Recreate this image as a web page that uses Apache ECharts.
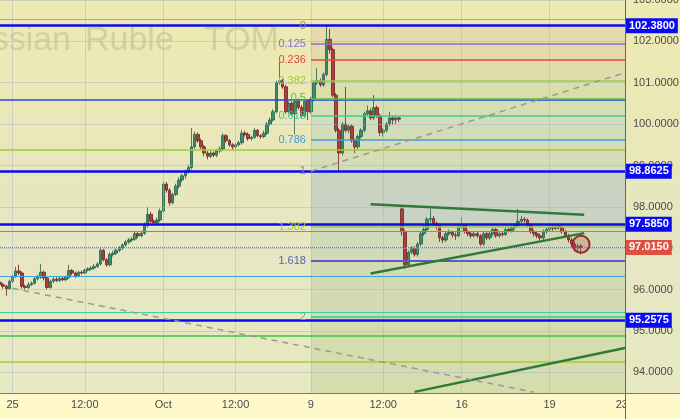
<!DOCTYPE html>
<html><head><meta charset="utf-8">
<script src="https://cdn.jsdelivr.net/npm/echarts@6/dist/echarts.min.js"></script>
<style>html,body{margin:0;padding:0;background:#FFF8CB;}#c{width:680px;height:419px;}</style>
</head><body><div id="c"></div>
<script>
// ---------- data ----------
const categoryCount = 200;
const categories = Array.from({length: categoryCount}, (_, i) => String(i));
const xTickIdx = [4, 27, 52, 75, 99, 122, 147, 175, 198];
const xTickLabels = ['25', '12:00', 'Oct', '12:00', '9', '12:00', '16', '19', '23'];
const yTicks = [94, 95, 96, 97, 98, 99, 100, 101, 102, 103];
const yMin = 93.5, yMax = 103;

// [open, close, low, high]
const ohlc = [
[96.18,96.12,96.05,96.22],[96.12,96.08,96.02,96.16],[96.08,96.02,95.85,96.12],[96.02,96.20,96.00,96.24],
[96.20,96.32,96.16,96.36],[96.32,96.45,96.28,96.55],[96.45,96.40,96.35,96.60],[96.40,96.08,96.02,96.44],
[96.08,96.05,96.00,96.12],[96.05,96.12,96.02,96.18],[96.12,96.15,96.08,96.20],[96.15,96.26,96.12,96.30],
[96.26,96.30,96.22,96.36],[96.30,96.42,96.26,96.62],[96.42,96.28,96.22,96.46],[96.28,96.05,96.00,96.32],
[96.05,96.20,96.02,96.24],[96.20,96.25,96.16,96.30],[96.25,96.22,96.18,96.30],[96.22,96.27,96.18,96.32],
[96.27,96.24,96.20,96.30],[96.24,96.30,96.20,96.34],[96.30,96.46,96.26,96.60],[96.46,96.40,96.35,96.50],
[96.40,96.34,96.28,96.44],[96.34,96.42,96.30,96.46],[96.42,96.40,96.36,96.46],[96.40,96.47,96.37,96.50],
[96.47,96.50,96.44,96.54],[96.50,96.52,96.46,96.56],[96.52,96.56,96.48,96.62],[96.56,96.62,96.52,96.66],
[96.62,96.95,96.58,97.00],[96.95,96.72,96.68,96.98],[96.72,96.60,96.55,96.76],[96.60,96.85,96.56,96.90],
[96.85,96.88,96.80,96.94],[96.88,96.95,96.84,97.00],[96.95,97.00,96.90,97.05],[97.00,97.08,96.96,97.12],
[97.08,97.15,97.04,97.20],[97.15,97.20,97.10,97.25],[97.20,97.22,97.15,97.28],[97.22,97.35,97.18,97.40],
[97.35,97.30,97.25,97.40],[97.30,97.36,97.26,97.42],[97.36,97.55,97.32,97.62],[97.55,97.82,97.50,98.00],
[97.82,97.65,97.60,97.88],[97.65,97.62,97.56,97.70],[97.62,97.68,97.58,97.74],[97.68,97.90,97.64,97.96],
[97.90,98.55,97.86,98.62],[98.55,98.40,98.34,98.60],[98.40,98.10,98.02,98.45],[98.10,98.30,98.06,98.34],
[98.30,98.50,98.26,98.56],[98.50,98.65,98.44,98.72],[98.65,98.75,98.60,98.80],[98.75,98.85,98.68,98.90],
[98.85,98.95,98.80,99.02],[98.95,99.45,98.90,99.90],[99.45,99.75,99.40,99.82],[99.75,99.60,99.55,99.80],
[99.60,99.45,99.40,99.65],[99.45,99.30,99.22,99.50],[99.30,99.22,99.15,99.35],[99.22,99.30,99.18,99.36],
[99.30,99.25,99.20,99.34],[99.25,99.35,99.20,99.40],[99.35,99.40,99.30,99.46],[99.40,99.72,99.36,99.78],
[99.72,99.60,99.55,99.76],[99.60,99.50,99.45,99.64],[99.50,99.45,99.38,99.54],[99.45,99.50,99.40,99.55],
[99.50,99.55,99.46,99.60],[99.55,99.78,99.50,99.85],[99.78,99.75,99.70,99.84],[99.75,99.65,99.60,99.80],
[99.65,99.68,99.60,99.72],[99.68,99.85,99.64,99.90],[99.85,99.72,99.68,99.88],[99.72,99.70,99.64,99.76],
[99.70,99.78,99.66,99.84],[99.78,100.00,99.74,100.05],[100.00,100.10,99.96,100.16],[100.10,100.30,100.06,100.36],
[100.30,101.00,100.26,101.05],[101.00,101.05,100.95,101.50],[101.05,100.90,100.85,101.10],[100.90,100.30,100.25,100.95],
[100.30,100.50,100.25,100.55],[100.50,100.25,100.20,100.55],[100.25,100.55,99.75,100.60],[100.55,100.40,100.35,100.62],
[100.40,100.20,100.15,100.46],[100.20,100.55,100.15,100.60],[100.55,100.30,100.10,100.60],[100.30,100.60,100.25,100.66],
[100.60,101.00,100.55,101.05],[101.00,101.05,100.95,101.35],[101.05,100.95,100.90,101.10],[100.95,101.20,100.90,101.25],
[101.20,102.05,101.15,102.38],[102.05,101.80,101.70,102.30],[101.80,100.70,100.65,101.85],[100.70,99.85,99.80,100.75],
[99.85,99.30,98.86,99.90],[99.30,100.00,99.25,100.05],[100.00,99.85,99.80,100.90],[99.85,99.95,99.78,100.00],
[99.95,99.60,99.55,100.00],[99.60,99.45,99.30,99.65],[99.45,99.70,99.40,99.75],[99.70,99.85,99.65,99.90],
[99.85,100.25,99.80,100.30],[100.25,100.32,100.20,100.45],[100.32,100.15,100.10,100.38],[100.15,100.40,100.10,100.70],
[100.40,100.20,100.15,100.45],[100.20,99.80,99.72,100.25],[99.80,99.85,99.70,99.90],[99.85,100.00,99.80,100.05],
[100.00,100.15,99.95,100.30],[100.15,100.10,99.98,100.20],[100.10,100.15,100.00,100.20],[100.15,100.12,100.05,100.18],
[97.95,97.40,97.30,98.00],[97.40,96.60,96.50,97.45],[96.60,96.90,96.55,96.95],[96.90,97.00,96.85,97.05],
[97.00,96.85,96.80,97.05],[96.85,97.10,96.80,97.15],[97.10,97.35,97.05,97.40],[97.35,97.45,97.30,97.55],
[97.45,97.70,97.40,97.75],[97.70,97.72,97.62,97.95],[97.72,97.60,97.55,97.78],[97.60,97.55,97.45,97.65],
[97.55,97.25,97.15,97.60],[97.25,97.20,97.12,97.30],[97.20,97.35,97.15,97.40],[97.35,97.38,97.30,97.45],
[97.38,97.32,97.25,97.42],[97.32,97.30,97.20,97.38],[97.30,97.50,97.26,97.55],[97.50,97.55,97.45,97.75],
[97.55,97.40,97.35,97.60],[97.40,97.35,97.28,97.44],[97.35,97.30,97.24,97.40],[97.30,97.35,97.26,97.40],
[97.35,97.30,97.25,97.40],[97.30,97.10,97.05,97.34],[97.10,97.35,97.05,97.40],[97.35,97.25,97.20,97.40],
[97.25,97.35,97.20,97.40],[97.35,97.45,97.30,97.50],[97.45,97.30,97.25,97.50],[97.30,97.35,97.25,97.40],
[97.35,97.33,97.28,97.40],[97.33,97.45,97.30,97.50],[97.45,97.42,97.38,97.50],[97.42,97.50,97.38,97.55],
[97.50,97.55,97.45,97.60],[97.55,97.65,97.50,97.95],[97.65,97.70,97.60,97.78],[97.70,97.68,97.62,97.75],
[97.68,97.55,97.50,97.72],[97.55,97.40,97.35,97.60],[97.40,97.35,97.28,97.45],[97.35,97.30,97.24,97.40],
[97.30,97.25,97.18,97.35],[97.25,97.40,97.20,97.45],[97.40,97.45,97.35,97.50],[97.45,97.50,97.40,97.55],
[97.50,97.48,97.42,97.56],[97.48,97.52,97.44,97.58],[97.52,97.50,97.45,97.56],[97.50,97.40,97.35,97.55],
[97.40,97.30,97.25,97.45],[97.30,97.20,97.14,97.35],[97.20,97.10,97.02,97.25],[97.10,97.00,96.92,97.15],
[97.00,97.05,96.90,97.10],[97.05,97.015,96.85,97.10]
];

const keyLevels = [102.38, 98.8625, 97.585, 95.2575];
const lastPrice = 97.015;
const extraLevels = [102.53, 100.58, 99.37, 97.42, 96.33, 95.46, 94.88, 94.25];

const fibHigh = 102.38, fibLow = 98.8625, fibStartIdx = 99, fibEndIdx = 199;
const fibRatios = [0, 0.125, 0.236, 0.382, 0.5, 0.618, 0.786, 1, 1.382, 1.618, 2];
const fibLabels = ['0', '0.125', '0.236', '0.382', '0.5', '0.618', '0.786', '1', '1.382', '1.618', '2'];

const trendLines = [
  [[118, 98.062], [186, 97.809]],
  [[118, 96.391], [186, 97.365]],
  [[132, 93.527], [199, 94.59]]
];
const dashedLines = [
  [[99, 98.8625], [199, 101.243]],
  [[4, 96.03], [170, 93.52]]
];
const circleMark = [185, 97.095];
const watermarkWords = ['Russian', 'Ruble', 'TOM'];

// ---------- styles ----------
const extraColors = ['#52D3A8', '#2E3FE0', '#9FCB36', '#8A8A8A', '#3DA2DA', '#3CCFA0', '#45C245', '#A9C93E'];
const extraWidths = [1, 1.5, 1.5, 1, 1, 1, 1.5, 1.5];
const fibColors = ['#8a8a8a', '#8A6FD0', '#E2493A', '#A3CC3A', '#4DC83A', '#3CC9A0', '#3A9EDC', '#8a8a8a', '#A3CC3A', '#5B5BC2', '#30C99A'];
const fibWidths = [1, 1.5, 1.5, 1.5, 1.5, 1.5, 1.5, 1, 1.5, 2, 1.5];
const bandColors = ['rgba(218,193,155,0.35)', 'rgba(206,201,154,0.35)', 'rgba(190,201,148,0.35)',
  'rgba(174,206,165,0.35)', 'rgba(170,203,180,0.35)', 'rgba(181,200,179,0.35)',
  'rgba(150,171,203,0.35)', 'rgba(173,191,168,0.35)', 'rgba(176,191,154,0.35)', 'rgba(181,197,137,0.35)'];
const BLUE = '#0A0AF5';
const FONT = '"Liberation Sans", Arial, sans-serif';
const wmX = [71, 85, 204];
const wmAlign = ['right', 'left', 'left'];

const fibLevels = fibRatios.map(r => fibHigh - r * (fibHigh - fibLow));
const bandRatioIdx = [0, 2, 3, 4, 5, 6, 7, 8, 9, 10];

const chart = echarts.init(document.getElementById('c'), null, {renderer: 'canvas'});

const bandData = bandRatioIdx.map((ri, k) => {
  const top = fibLevels[ri];
  const bottom = k + 1 < bandRatioIdx.length ? fibLevels[bandRatioIdx[k + 1]] : yMin;
  return [{xAxis: fibStartIdx, yAxis: top, itemStyle: {color: bandColors[k]}}, {xAxis: fibEndIdx, yAxis: bottom}];
});

const gridLineData = yTicks.map(v => ({yAxis: v})).concat(xTickIdx.slice(0, 8).map(i => ({xAxis: i})));

const levelData = [];
extraLevels.forEach((v, k) => levelData.push({yAxis: v, lineStyle: {color: extraColors[k], width: extraWidths[k], type: 'solid'}}));
fibLevels.forEach((v, k) => levelData.push([
  {coord: [fibStartIdx, v], lineStyle: {color: fibColors[k], width: fibWidths[k], type: 'solid'},
   label: {show: true, position: 'start', formatter: fibLabels[k], color: fibColors[k], fontSize: 11, fontFamily: FONT, distance: 5}},
  {coord: [fibEndIdx, v]}
]));
keyLevels.forEach(v => levelData.push({yAxis: v, lineStyle: {color: BLUE, width: 2.5, type: 'solid'},
  label: {show: true, position: 'end', formatter: v.toFixed(4), backgroundColor: BLUE, color: '#fff',
    fontWeight: 'bold', fontSize: 11, fontFamily: FONT, padding: [2, 3, 1, 3], lineHeight: 12, distance: 1}}));
levelData.push({yAxis: lastPrice, lineStyle: {color: '#C8625A', width: 1, type: 'dotted'},
  label: {show: true, position: 'end', formatter: lastPrice.toFixed(4), backgroundColor: '#E0503E', color: '#fff',
    fontWeight: 'bold', fontSize: 11, fontFamily: FONT, padding: [2, 3, 1, 3], lineHeight: 12, distance: 1}});

const trendData = [];
trendLines.forEach(t => trendData.push([{coord: t[0], lineStyle: {color: '#2F7A3A', width: 2.5, type: 'solid'}}, {coord: t[1]}]));
dashedLines.forEach(t => trendData.push([{coord: t[0], lineStyle: {color: '#9a9a92', width: 1.5, type: [6, 5]}}, {coord: t[1]}]));

const hexPts = [];
for (let k = 0; k < 6; k++) { const a = Math.PI / 6 + k * Math.PI / 3; hexPts.push([6.5 * Math.cos(a), 6.5 * Math.sin(a)]); }

const watermark = watermarkWords.map((w, k) => ({
  type: 'text', z: -5, silent: true, x: wmX[k], y: 41,
  style: {text: w, font: 'normal 34px ' + FONT, fill: 'rgba(100,100,80,0.19)', verticalAlign: 'middle', align: wmAlign[k]}
}));

const option = {
  backgroundColor: '#FFF8CB',
  animation: false,
  grid: {left: 0, right: 55, top: 0, bottom: 26, containLabel: false, outerBoundsMode: 'none'},
  xAxis: {
    type: 'category', data: categories, boundaryGap: false,
    axisLine: {show: true, lineStyle: {color: '#7a7a70', width: 1}},
    axisTick: {show: false},
    splitLine: {show: false},
    axisLabel: {
      interval: (i) => xTickIdx.indexOf(i) >= 0,
      formatter: (v, i) => { const k = xTickIdx.indexOf(Number(v)); return k >= 0 ? xTickLabels[k] : ''; },
      color: '#4a4a4a', fontSize: 11, fontFamily: FONT, margin: 6
    }
  },
  yAxis: {
    type: 'value', position: 'right', min: yMin, max: yMax, interval: 0.5,
    axisLine: {show: true, lineStyle: {color: '#66665e', width: 1}},
    axisTick: {show: false},
    splitLine: {show: false},
    axisLabel: {
      formatter: v => (Math.abs(v - Math.round(v)) < 1e-6 ? v.toFixed(4) : ''),
      color: '#4a4a4a', fontSize: 11, fontFamily: FONT, margin: 8
    }
  },
  graphic: [
    {type: 'rect', z: -10, silent: true, shape: {x: 0, y: 0, width: 680, height: 393},
     style: {fill: new echarts.graphic.LinearGradient(0, 0, 0, 1, [
       {offset: 0, color: '#EEEAB1'}, {offset: 0.25, color: '#EBE8B6'}, {offset: 0.43, color: '#E8E7BC'},
       {offset: 0.58, color: '#E6E7C2'}, {offset: 1, color: '#E7E9C2'}])}}
  ].concat(watermark).concat([
    {type: 'rect', z: 100, silent: true, shape: {x: 626, y: 394, width: 54, height: 25}, style: {fill: '#FFF8CB'}},
    {type: 'line', z: 101, silent: true, shape: {x1: 625.5, y1: 393, x2: 625.5, y2: 419}, style: {stroke: '#66665e', lineWidth: 1}},
    {type: 'line', z: 101, silent: true, shape: {x1: 625, y1: 393.5, x2: 680, y2: 393.5}, style: {stroke: '#7a7a70', lineWidth: 1}},
    {type: 'group', z: 102, x: 652, y: 405, children: [
      {type: 'polygon', shape: {points: hexPts}, style: {fill: 'none', stroke: '#3a3a3a', lineWidth: 1.4}},
      {type: 'circle', shape: {cx: 0, cy: 0, r: 2.4}, style: {fill: 'none', stroke: '#3a3a3a', lineWidth: 1.3}}
    ]}
  ]),
  series: [
    {type: 'line', data: [], z: 1, silent: true,
     markArea: {silent: true, data: bandData}},
    {type: 'line', data: [], z: 1, silent: true,
     markLine: {silent: true, symbol: ['none', 'none'], animation: false, label: {show: false},
       lineStyle: {color: 'rgba(160,178,212,0.45)', width: 1, type: 'solid'}, data: gridLineData}},
    {type: 'line', data: [], z: 2, silent: true,
     markLine: {silent: true, symbol: ['none', 'none'], animation: false, label: {show: false}, data: levelData}},
    {type: 'candlestick', z: 3, data: ohlc, barWidth: 3,
     itemStyle: {color: '#3B8E6D', color0: '#B53B3B', borderColor: '#276049', borderColor0: '#6E2222', borderWidth: 0.8}},
    {type: 'line', data: [], z: 4, silent: true,
     markLine: {silent: true, symbol: ['none', 'none'], animation: false, label: {show: false}, data: trendData},
     markPoint: {silent: true, symbol: 'circle', symbolSize: 17, label: {show: false},
       itemStyle: {color: 'rgba(200,70,70,0.25)', borderColor: '#9A2A2A', borderWidth: 2},
       data: [{coord: circleMark}]}}
  ]
};
chart.setOption(option);
</script></body></html>
